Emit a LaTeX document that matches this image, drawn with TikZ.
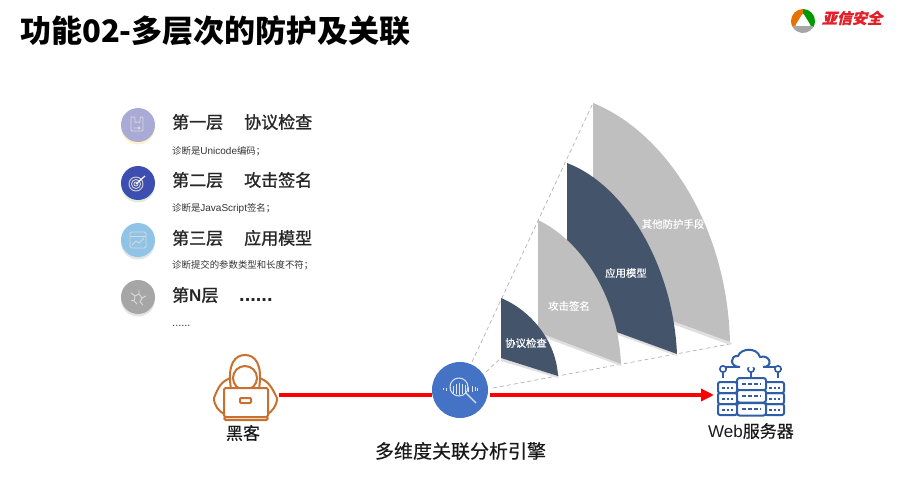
\documentclass[tikz,border=0pt]{standalone}
\usepackage{fontspec}
\setmainfont{Noto Sans CJK SC}
\newfontfamily\headfont[FakeBold=1.2]{Noto Sans CJK SC}
\newfontfamily\softfont[FakeBold=0.5]{Noto Sans CJK SC}
\newfontfamily\logofont[FakeSlant=0.25,FakeBold=0.5]{Noto Sans CJK SC}
\newfontfamily\latinfont{Liberation Sans}
\usetikzlibrary{arrows.meta}

\definecolor{navysail}{HTML}{44546A}
\definecolor{graysail}{HTML}{BFBFBF}
\definecolor{hackerline}{HTML}{C8702E}
\definecolor{serverline}{HTML}{2F5DA8}
\definecolor{enginefill}{HTML}{4472C4}
\definecolor{logored}{HTML}{E0202A}

\tikzset{
  pagetitle/.style={anchor=west,inner sep=0pt,font=\bfseries\fontsize{31}{34}\selectfont},
  layerhead/.style={anchor=west,inner sep=0pt,text=black!85,font=\headfont\fontsize{17}{20}\selectfont},
  layernote/.style={anchor=west,inner sep=0pt,text=black!80,font=\fontsize{9.4}{12}\selectfont},
  sailtext/.style={inner sep=0pt,text=white,font=\softfont\fontsize{10.4}{12}\selectfont},
  biglabel/.style={inner sep=0pt,text=black!90,font=\softfont\fontsize{17}{20}\selectfont},
  guide/.style={gray!60,dash pattern=on 4pt off 3pt,line width=.7pt},
  attack/.style={red,line width=4pt},
  hackerpen/.style={hackerline,line width=2pt,line join=round},
  serverpen/.style={serverline,line width=2pt},
  iconpen/.style={white!85!black,line width=.9pt},
  lenspen/.style={white!82!enginefill,line width=1pt},
}

\begin{document}
\begin{tikzpicture}[x=1pt,y=-1pt]
    \useasboundingbox (0,0) rectangle (900,492);

    % title and logo
    \node[pagetitle] (title) at (20,31) {功能02-多层次的防护及关联};
    \fill[orange!90!black] (803,21) -- (803,9) arc (-90:-210:12) -- cycle;
    \fill[green!60!black] (803,21) -- (803,9) arc (-90:30:12) -- cycle;
    \fill[gray!70] (803,21) -- (813.4,27) arc (30:150:12) -- cycle;
    \fill[white,rounded corners=2pt] (803,13) -- (811,26) -- (795,26) -- cycle;
    \node[inner sep=0pt,text=logored,font=\logofont\bfseries\fontsize{15}{17}\selectfont] (logo) at (852,18) {亚信安全};

    % the four round icons on the left
    \foreach \y/\col/\glow in {125/A9ABD6/FFF1C9, 183/3D4DB0/DDF0DD, 240/8FC4E6/E3E3E3, 297/A6A6A6/E3E3E3} {
      \definecolor{dotcol}{HTML}{\col}
      \definecolor{glowcol}{HTML}{\glow}
      \fill[glowcol] (138,\y+2.5) circle (17);
      \fill[dotcol] (138,\y) circle (17);
    }

    % icon one
    \draw[iconpen,rounded corners=1pt] (131,117) -- (131,131) -- (143,131) -- (143,117) -- (140,117)
      -- (140,123) -- (137.5,121.5) -- (135,123) -- (135,117) -- cycle;
    \draw[iconpen] (133,128) -- (137,128) (139,128) circle (1);
    % icon two
    \foreach \r in {2,4.5,7}
      \draw[iconpen] (136,184) circle (\r);
    \draw[white,line width=1.2pt] (136,184) -- (145,176);
    % icon three
    \draw[iconpen,rounded corners=1.5pt] (130,232) rectangle (146,248);
    \draw[iconpen] (130,236) -- (146,236);
    \draw[iconpen] (132,245) -- (136,241) -- (139,243) -- (144,238);
    % icon four
    \draw[iconpen] (131,293) -- (135,296) -- (134,301) -- (137,304)
      (135,296) -- (139,294) -- (139,290)
      (139,294) -- (142,298) -- (146,296)
      (142,298) -- (140,302) -- (143,305)
      (131,300) -- (134,301);

    % text of the layers
    \node[layerhead] (head1) at (172,122) {第一层};
    \node[layerhead] (name1) at (244,122) {协议检查};
    \node[layernote] (note1) at (172,151.5) {诊断是{\latinfont\fontsize{10}{12}\selectfont Unicode}编码；};
    \node[layerhead] (head2) at (172,180) {第二层};
    \node[layerhead] (name2) at (244,180) {攻击签名};
    \node[layernote] (note2) at (172,208.5) {诊断是{\latinfont\fontsize{10}{12}\selectfont JavaScript}签名；};
    \node[layerhead] (head3) at (172,238) {第三层};
    \node[layerhead] (name3) at (244,238) {应用模型};
    \node[layernote] (note3) at (172,265.5) {诊断提交的参数类型和长度不符；};
    \node[layerhead] (head4) at (172,295) {第{\latinfont\bfseries N}层};
    \node[layerhead] (name4) at (239,300) {{\latinfont\bfseries\fontsize{20}{20}\selectfont ......}};
    \node[layernote] (note4) at (172,325.5) {{\latinfont\fontsize{11}{12}\selectfont ......}};

    % corners of the sails
    \coordinate (top1) at (501,298);
    \coordinate (low1) at (501,358);
    \coordinate (end1) at (558,376);
    \coordinate (top2) at (538,220);
    \coordinate (low2) at (538,332);
    \coordinate (end2) at (621,364);
    \coordinate (top3) at (567,163);
    \coordinate (low3) at (567,314);
    \coordinate (end3) at (677,354);
    \coordinate (top4) at (593,103);
    \coordinate (low4) at (593,292);
    \coordinate (end4) at (730,342);

    % dashed guides
    \draw[guide] (472,362) -- (top4);
    \draw[guide] (486,372) -- (low1);
    \draw[guide] (493,388) -- (730,344);

    % the sails, back to front
    \fill[gray!25] (low4) -- (732,343) -- (730,345) -- (593,295) -- cycle;
    \fill[graysail] (top4) .. controls (665,132) and (727,225) .. (end4) -- (low4) -- cycle;
    \fill[gray!25] (low3) -- (677,354) -- (677,356) -- (567,317) -- cycle;
    \fill[navysail] (top3) .. controls (625,185) and (673,265) .. (end3) -- (low3) -- cycle;
    \fill[gray!25] (low2) -- (621,364) -- (621,366) -- (538,335) -- cycle;
    \fill[graysail] (top2) .. controls (580,240) and (618,295) .. (end2) -- (low2) -- cycle;
    \fill[gray!25] (low1) -- (558,376) -- (558,378) -- (501,361) -- cycle;
    \fill[navysail] (top1) .. controls (530,310) and (556,340) .. (end1) -- (low1) -- cycle;

    \node[sailtext] (sail1) at (526,343) {协议检查};
    \node[sailtext] (sail2) at (569,306) {攻击签名};
    \node[sailtext] (sail3) at (626,273) {应用模型};
    \node[sailtext] (sail4) at (673,224) {其他防护手段};

    % hacker
    \draw[hackerpen,fill=white] (231,389) .. controls (227,364) and (235,355) .. (245,355)
      .. controls (255,355) and (263,364) .. (259,389);
    \draw[hackerpen] (231,378) .. controls (221,381) and (218,388) .. (214,398)
      .. controls (214,406) and (219,411) .. (224,414);
    \draw[hackerpen] (259,378) .. controls (269,381) and (272,388) .. (277,398)
      .. controls (277,406) and (272,411) .. (268,414);
    \draw[hackerpen] (245,378) circle (12);
    \draw[hackerpen,fill=white,rounded corners=2pt] (224,388) rectangle (268,417);
    \draw[hackerpen,rounded corners=1.5pt] (224,417) rectangle (268,420);
    \draw[hackerpen,rounded corners=1pt] (240,398) rectangle (251,403);
    \node[biglabel] (hacker) at (243,433) {黑客};

    % engine
    \node[circle,fill=enginefill,minimum size=56pt,inner sep=0pt] (engine) at (460,390) {};
    \foreach \x/\h in {443/1.5,446/3,450/4,453/7,456/10,459/12,462/10,465/8,468/5,472/6,475/4,477/3}
      \draw[lenspen,line width=.9pt] (\x,389-\h/2) -- (\x,389+\h/2);
    \draw[lenspen] (459,387) circle (9);
    \draw[lenspen,line width=1.3pt] (466,393) -- (476,403);
    \node[inner sep=0pt,text=black!90,font=\softfont\fontsize{19}{22}\selectfont] (enginename) at (460.5,451) {多维度关联分析引擎};

    % server group
    \coordinate (serverleft) at (714,395);
    \foreach \x in {723,751,778} {
      \draw[serverpen,line width=1.6pt] (\x,369) circle (3.2);
      \draw[serverpen] (\x,372.2) -- (\x,378);
    }
    \draw[serverpen] (725.6,366.5) -- (738,366.5) (764,366.5) -- (775.4,366.5) (751,365.8) -- (751,363);
    \draw[serverpen,fill=white] (740,367) .. controls (729,367) and (730,355) .. (738,356)
      .. controls (741,348) and (757,347) .. (760,357)
      .. controls (770,354) and (774,367) .. (763,367);
    \foreach \x/\w in {718/19,765/19} \foreach \y in {382,393,404} {
      \draw[serverpen,rounded corners=2pt] (\x,\y) rectangle +(\w,11);
      \draw[serverpen,dash pattern=on 2.5pt off 2pt] (\x+4,\y+5.5) -- +(\w-8,0);
    }
    \foreach \y in {378,390,403} {
      \draw[serverpen,fill=white,rounded corners=2.5pt] (737,\y) rectangle +(29,12.5);
      \draw[serverpen,dash pattern=on 4pt off 2pt] (742,\y+6.2) -- +(19,0);
    }
    \node[biglabel] (web) at (751,431) {{\latinfont Web}服务器};

    % attack line
    \coordinate (hackerright) at (279,395);
    \draw[attack] (hackerright) -- (engine.west |- hackerright);
    \draw[attack,-{Triangle[length=13pt,width=12pt]}] (490,395) -- (serverleft);
\end{tikzpicture}
\end{document}
